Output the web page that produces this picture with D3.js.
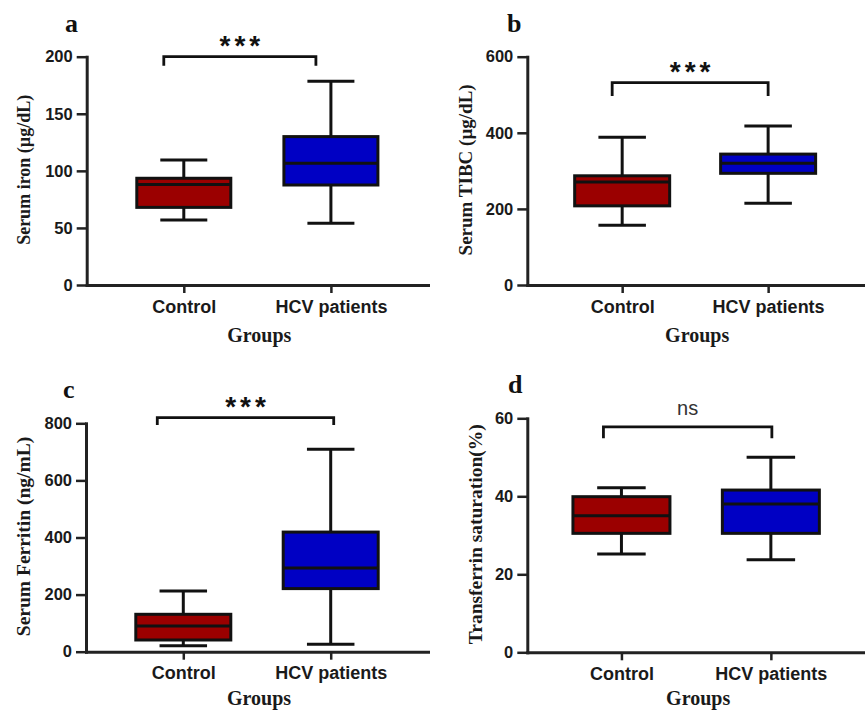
<!DOCTYPE html>
<html>
<head>
<meta charset="utf-8">
<script src="https://cdn.jsdelivr.net/npm/d3@7"></script>
<style>
  body { margin: 0; background: #fff; }
  .tick text { font-family: "Liberation Sans", Arial, sans-serif; font-weight: bold; fill: #1a1a1a; }
</style>
</head>
<body>
<div id="chart"></div>
<script>
// groups on the x axis
const groups = ["Control", "HCV patients"];

// box stats per group: [min, q1, median, q3, max]
const ironStats = [[57, 68, 88, 93.5, 109.5], [54, 87.6, 106.6, 130, 178.4]];
const tibcStats = [[157, 208, 271, 287, 388], [215, 293.5, 320, 344, 418]];
const ferritinStats = [[21, 41, 90, 131, 213], [26, 221, 293, 419, 709]];
const tsatStats = [[25.2, 30.5, 35, 39.9, 42.2], [23.7, 30.5, 38, 41.6, 50]];

// y axis ticks
const ironTicks = [0, 50, 100, 150, 200];
const tibcTicks = [0, 200, 400, 600];
const ferritinTicks = [0, 200, 400, 600, 800];
const tsatTicks = [0, 20, 40, 60];

// significance labels and bracket heights (data units): [bar, leg end]
const sigLabels = ["***", "***", "***", "ns"];
const ironBracket = [200, 192];
const tibcBracket = [532, 497];
const ferritinBracket = [820, 794];
const tsatBracket = [57.8, 54.9];

const yLabels = ["Serum iron (\u00b5g/dL)", "Serum TIBC (\u00b5g/dL)",
                 "Serum Ferritin (ng/mL)", "Transferrin saturation(%)"];
const letters = ["a", "b", "c", "d"];

const width = 865;
const height = 711;
const fills = ["#9b0000", "#0000c4"];
const serif = "'Liberation Serif', 'Times New Roman', serif";
const sans = "'Liberation Sans', Arial, sans-serif";

// layout of each panel
const panels = [
  {stats: ironStats, ticks: ironTicks, bracket: ironBracket, left: 86.7, right: 428, top: 56.7, bottom: 285,
   pad: 0.66, boxW: 94, labelSize: 18, labelX: 24, brL: -20, brR: -15, letterX: 65},
  {stats: tibcStats, ticks: tibcTicks, bracket: tibcBracket, left: 527.3, right: 863, top: 56.7, bottom: 285,
   pad: 0.65, boxW: 95, labelSize: 19, labelX: 465, brL: -10, brR: 0, letterX: 507},
  {stats: ferritinStats, ticks: ferritinTicks, bracket: ferritinBracket, left: 86, right: 428, top: 423.3, bottom: 651.7,
   pad: 0.66, boxW: 95, labelSize: 19.5, labelX: 23, brL: -26, brR: 3, letterX: 63},
  {stats: tsatStats, ticks: tsatTicks, bracket: tsatBracket, left: 527.3, right: 865, top: 418.3, bottom: 652.3,
   pad: 0.63, boxW: 97, labelSize: 19.5, labelX: 475, brL: -18, brR: 1, letterX: 508}
];

const svg = d3.select("#chart")
  .append("svg")
    .attr("width", width)
    .attr("height", height);

panels.forEach((p, i) => {
  const g = svg.append("g");
  const yMax = p.ticks[p.ticks.length - 1];

  const X = d3.scalePoint().domain(groups).range([p.left, p.right]).padding(p.pad);
  const Y = d3.scaleLinear().domain([0, yMax]).range([p.bottom, p.top]);

  // whiskers
  groups.forEach((grp, j) => {
    const s = p.stats[j];
    const cx = X(grp);
    const bw = p.boxW;
    g.append("line")
      .attr("x1", cx).attr("x2", cx)
      .attr("y1", Y(s[0])).attr("y2", Y(s[4]))
      .attr("stroke", "#111").attr("stroke-width", 3);
    [s[0], s[4]].forEach(v => {
      g.append("line")
        .attr("x1", cx - bw / 4).attr("x2", cx + bw / 4)
        .attr("y1", Y(v)).attr("y2", Y(v))
        .attr("stroke", "#111").attr("stroke-width", 3);
    });
    // box
    g.append("rect")
      .attr("x", cx - bw / 2)
      .attr("y", Y(s[3]))
      .attr("width", bw)
      .attr("height", Y(s[1]) - Y(s[3]))
      .attr("fill", fills[j])
      .attr("stroke", "#111").attr("stroke-width", 3);
    // median
    g.append("line")
      .attr("x1", cx - bw / 2).attr("x2", cx + bw / 2)
      .attr("y1", Y(s[2])).attr("y2", Y(s[2]))
      .attr("stroke", "#111").attr("stroke-width", 3);
  });

  // y axis
  const yAxis = g.append("g")
    .attr("transform", "translate(" + p.left + ",0)")
    .call(d3.axisLeft(Y).tickValues(p.ticks).tickSize(10).tickSizeOuter(0).tickPadding(4));
  yAxis.selectAll("text").style("font-size", "16.5px");

  // x axis
  const xAxis = g.append("g")
    .attr("transform", "translate(0," + p.bottom + ")")
    .call(d3.axisBottom(X).tickSize(8).tickSizeOuter(0).tickPadding(7));
  xAxis.selectAll("text").style("font-size", "18px");

  [yAxis, xAxis].forEach(ax => {
    ax.select(".domain").attr("stroke", "#222").attr("stroke-width", 3).attr("stroke-linecap", "square");
    ax.selectAll(".tick line").attr("stroke", "#222").attr("stroke-width", 2.5);
  });

  // axis titles
  g.append("text")
    .attr("transform", "translate(" + p.labelX + "," + ((p.top + p.bottom) / 2 - 1) + ") rotate(-90)")
    .attr("text-anchor", "middle")
    .attr("dy", "0.35em")
    .style("font-family", serif).style("font-weight", "bold")
    .style("font-size", p.labelSize + "px").style("fill", "#1a1a1a")
    .text(yLabels[i]);

  g.append("text")
    .attr("x", (p.left + p.right) / 2 + 2)
    .attr("y", Math.min(p.bottom + 57, height - 6))
    .attr("text-anchor", "middle")
    .style("font-family", serif).style("font-weight", "bold")
    .style("font-size", "20px").style("fill", "#1a1a1a")
    .text("Groups");

  // panel letter
  g.append("text")
    .attr("x", p.letterX)
    .attr("y", p.top - 25)
    .style("font-family", serif).style("font-weight", "bold")
    .style("font-size", "26px").style("fill", "#111")
    .text(letters[i]);

  // significance bracket
  const bx1 = X(groups[0]) + p.brL;
  const bx2 = X(groups[1]) + p.brR;
  const by = Y(p.bracket[0]);
  const byLeg = Y(p.bracket[1]);
  g.append("path")
    .attr("d", "M" + bx1 + "," + byLeg + "V" + by + "H" + bx2 + "V" + byLeg)
    .attr("fill", "none").attr("stroke", "#111").attr("stroke-width", 2.8);

  const isNs = sigLabels[i] === "ns";
  g.append("text")
    .attr("x", (bx1 + bx2) / 2 + (isNs ? 0 : 2))
    .attr("y", isNs ? by - 12 : by - 2)
    .attr("text-anchor", "middle")
    .style("font-family", sans)
    .style("font-weight", isNs ? "normal" : "bold")
    .style("font-size", isNs ? "20px" : "28px")
    .style("letter-spacing", isNs ? "0px" : "4px")
    .style("fill", isNs ? "#333" : "#111")
    .text(sigLabels[i]);
});
</script>
</body>
</html>
